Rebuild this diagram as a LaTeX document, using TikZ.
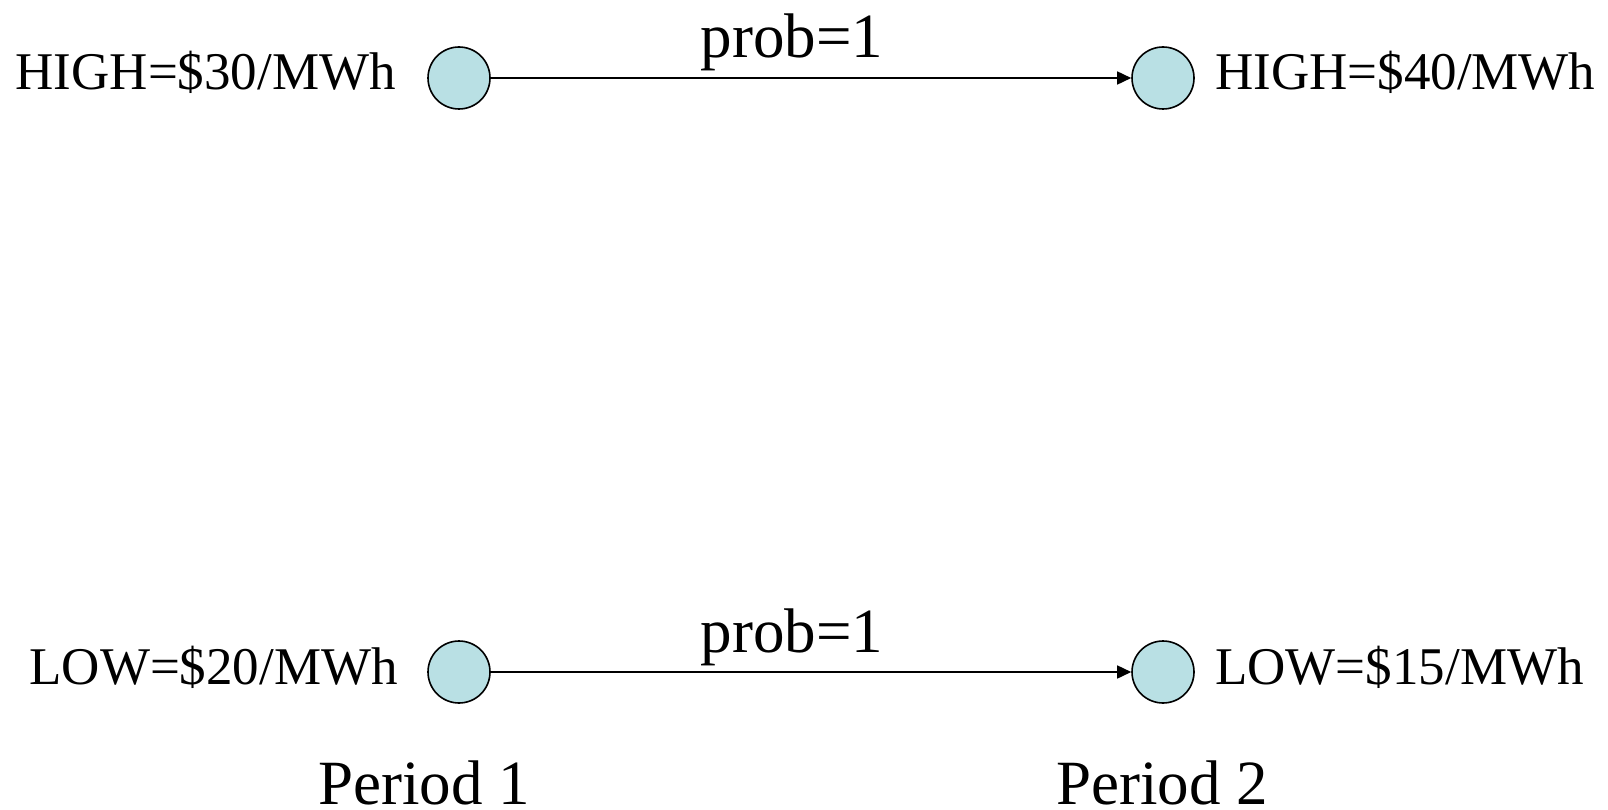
\documentclass[tikz,border=0pt]{standalone}
\usepackage{fontspec}
\setmainfont{Liberation Serif}
\usetikzlibrary{arrows.meta}
\definecolor{nodefill}{RGB}{185,224,228}
\tikzset{
  state/.style={circle,draw=black,line width=1.6pt,fill=nodefill,minimum size=62pt,inner sep=0pt},
  lbl/.style={inner sep=0pt,font=\fontsize{53}{60}\selectfont},
  big/.style={inner sep=0pt,font=\fontsize{63}{70}\selectfont},
  conn/.style={line width=1.6pt,-{Triangle[length=14pt,width=13pt]}}
}
\begin{document}
\begin{tikzpicture}[x=1pt,y=-1pt]
\useasboundingbox (0,0) rectangle (1608,810);
\node[state] (h1) at (459,78) {};
\node[state] (h2) at (1163,78) {};
\node[state] (l1) at (459,672) {};
\node[state] (l2) at (1163,672) {};
\node[lbl,anchor=base east] (th1) at (396,90) {HIGH=\$30/MWh};
\node[lbl,anchor=base west] (th2) at (1215,90) {HIGH=\$40/MWh};
\node[lbl,anchor=base east] (tl1) at (398,684) {LOW=\$20/MWh};
\node[lbl,anchor=base west] (tl2) at (1215,684) {LOW=\$15/MWh};
\draw[conn] (h1) -- (h2);
\draw[conn] (l1) -- (l2);
\node[big,anchor=base] (p1) at (792,58) {prob=1};
\node[big,anchor=base] (p2) at (792,652) {prob=1};
\node[big,anchor=base,text depth=0pt] (per1) at (424,804) {Period 1};
\node[big,anchor=base,text depth=0pt] (per2) at (1162,804) {Period 2};
\end{tikzpicture}
\end{document}
